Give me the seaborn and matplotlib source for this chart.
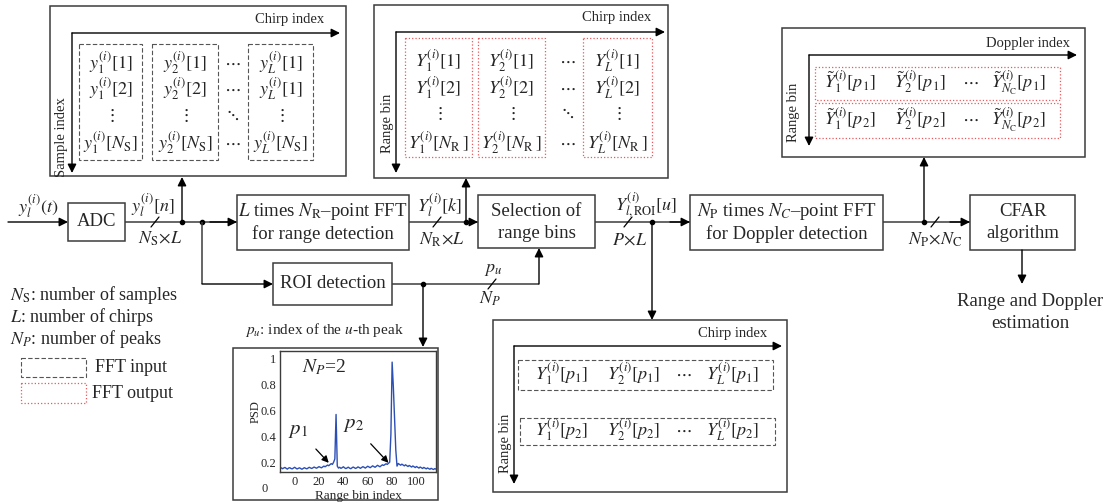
import matplotlib
matplotlib.use("Agg")
import matplotlib.pyplot as plt
import numpy as np
import pandas as pd
import seaborn as sns
from matplotlib.patches import Rectangle

sns.set_style("white")
plt.rcParams['font.family'] = ['Liberation Serif', 'DejaVu Serif']
plt.rcParams['mathtext.fontset'] = 'stix'

# PSD of the ROI detection output
range_bins = list(range(-12, 117))
psd = [0.158, 0.162, 0.155, 0.160, 0.165, 0.158, 0.152, 0.160, 0.163, 0.157,
       0.154, 0.160, 0.166, 0.159, 0.153, 0.158, 0.162, 0.156, 0.151, 0.157,
       0.163, 0.158, 0.154, 0.160, 0.166, 0.161, 0.157, 0.162, 0.168, 0.163,
       0.159, 0.165, 0.171, 0.166, 0.162, 0.169, 0.175, 0.170, 0.176, 0.183,
       0.178, 0.186, 0.194, 0.188, 0.205, 0.230, 0.570, 0.175, 0.160, 0.166,
       0.158, 0.163, 0.170, 0.162, 0.156, 0.161, 0.167, 0.160, 0.155, 0.161,
       0.168, 0.163, 0.157, 0.162, 0.169, 0.164, 0.158, 0.165, 0.171, 0.166,
       0.160, 0.167, 0.174, 0.168, 0.163, 0.170, 0.177, 0.171, 0.166, 0.174,
       0.181, 0.175, 0.170, 0.178, 0.185, 0.180, 0.186, 0.193, 0.188, 0.196,
       0.205, 0.420, 0.970, 0.780, 0.540, 0.300, 0.175, 0.195, 0.188, 0.182,
       0.190, 0.183, 0.177, 0.185, 0.179, 0.172, 0.180, 0.174, 0.168, 0.176,
       0.170, 0.164, 0.172, 0.166, 0.160, 0.168, 0.162, 0.157, 0.165, 0.159,
       0.154, 0.161, 0.156, 0.151, 0.158, 0.153, 0.149, 0.156, 0.152]
psd_xticks = [0, 20, 40, 60, 80, 100]
psd_yticks = [0.2, 0.4, 0.6, 0.8, 1.0]
psd_yticklabels = ['0.2', '0.4', '0.6', '0.8', '1']

# matrix contents
tl_cols = [[r'$y_1^{(i)}[1]$', r'$y_1^{(i)}[2]$', r'$\vdots$', r'$y_1^{(i)}[N_\mathrm{S}]$'],
           [r'$y_2^{(i)}[1]$', r'$y_2^{(i)}[2]$', r'$\vdots$', r'$y_2^{(i)}[N_\mathrm{S}]$'],
           [r'$y_L^{(i)}[1]$', r'$y_L^{(i)}[1]$', r'$\vdots$', r'$y_L^{(i)}[N_\mathrm{S}]$']]
tm_cols = [[r'$Y_1^{(i)}[1]$', r'$Y_1^{(i)}[2]$', r'$\vdots$', r'$Y_1^{(i)}[N_\mathrm{R}\,]$'],
           [r'$Y_2^{(i)}[1]$', r'$Y_2^{(i)}[2]$', r'$\vdots$', r'$Y_2^{(i)}[N_\mathrm{R}\,]$'],
           [r'$Y_L^{(i)}[1]$', r'$Y_L^{(i)}[2]$', r'$\vdots$', r'$Y_L^{(i)}[N_\mathrm{R}\,]$']]
dots_col = [r'$\cdots$', r'$\cdots$', r'$\ddots$', r'$\cdots$']
tr_rows = [[r'$\tilde{Y}_1^{(i)}[p_1]$', r'$\tilde{Y}_2^{(i)}[p_1]$', r'$\cdots$', r'$\tilde{Y}_{N_\mathrm{C}}^{(i)}[p_1]$'],
           [r'$\tilde{Y}_1^{(i)}[p_2]$', r'$\tilde{Y}_2^{(i)}[p_2]$', r'$\cdots$', r'$\tilde{Y}_{N_\mathrm{C}}^{(i)}[p_2]$']]
bm_rows = [[r'$Y_1^{(i)}[p_1]$', r'$Y_2^{(i)}[p_1]$', r'$\cdots$', r'$Y_L^{(i)}[p_1]$'],
           [r'$Y_1^{(i)}[p_2]$', r'$Y_2^{(i)}[p_2]$', r'$\cdots$', r'$Y_L^{(i)}[p_2]$']]

W, H = 1104, 504
fig = plt.figure(figsize=(W / 100, H / 100), dpi=100)
ax = fig.add_axes([0, 0, 1, 1])
ax.set_xlim(0, W)
ax.set_ylim(H, 0)
ax.axis('off')

EDGE = '#3c3c3c'
RED = '#e8585c'
GREY = '#555555'
FS = 13


def box(x0, y0, x1, y1, ls='-', color=EDGE, lw=1.1):
    ax.add_patch(Rectangle((x0, y0), x1 - x0, y1 - y0, fill=False,
                           edgecolor=color, linestyle=ls, lw=lw))


def arrow(x0, y0, x1, y1):
    ax.annotate('', xy=(x1, y1), xytext=(x0, y0),
                arrowprops=dict(arrowstyle='-|>', color='black', lw=1.0,
                                mutation_scale=13, shrinkA=0, shrinkB=0))


def line(xs, ys):
    ax.plot(xs, ys, color=EDGE, lw=1.1, solid_capstyle='butt')


def dot(x, y):
    ax.plot([x], [y], 'o', color='black', ms=3)


def slash(x, y):
    ax.plot([x - 4, x + 4], [y + 5, y - 5], color='black', lw=0.9)


def txt(x, y, s, fs=FS, ha='center', **kw):
    ax.text(x, y, s, fontsize=fs, ha=ha, va='center', **kw)


# ---- top-left: FFT input matrix
box(50, 6, 346, 176)
arrow(72, 33, 340, 33)
arrow(72, 33, 72, 173)
txt(290, 19, 'Chirp index', fs=10.5)
txt(62, 137, 'Sample index', fs=10.5, rotation=90)
for (x0, x1), col in zip([(79, 142), (152, 218), (248, 313)], tl_cols):
    box(x0, 44, x1, 160, ls=(0, (4, 2)), color=GREY, lw=0.8)
    for y, s in zip([63, 89, 115, 143], col):
        txt((x0 + x1) / 2, y, s)
for y, s in zip([63, 89, 115, 143], dots_col):
    txt(232, y, s)

# ---- top-middle: FFT output matrix
box(374, 5, 668, 178)
arrow(396, 32, 665, 32)
arrow(396, 32, 396, 173)
txt(617, 18, 'Chirp index', fs=10.5)
txt(387, 123, 'Range bin', fs=10.5, rotation=90)
for (x0, x1), col in zip([(405, 472), (478, 545), (583, 652)], tm_cols):
    box(x0, 38, x1, 157, ls=':', color=RED, lw=0.9)
    for y, s in zip([61, 88, 113, 143], col):
        txt((x0 + x1) / 2, y, s)
for y, s in zip([61, 88, 113, 143], dots_col):
    txt(567, y, s)

# ---- top-right: Doppler matrix
box(782, 28, 1085, 157)
arrow(809, 55, 1077, 55)
arrow(809, 55, 809, 146)
txt(1028, 43, 'Doppler index', fs=10.5)
txt(793, 112, 'Range bin', fs=10.5, rotation=90)
for (y0, y1), row in zip([(67, 100), (103, 138)], tr_rows):
    box(815, y0, 1060, y1, ls=':', color=RED, lw=0.9)
    for x, s in zip([850, 920, 970, 1018], row):
        txt(x, (y0 + y1) / 2 - 1, s)

# ---- bottom-middle: selected bins matrix
box(493, 320, 787, 492)
arrow(514, 346, 782, 346)
arrow(514, 346, 514, 484)
txt(733, 334, 'Chirp index', fs=10.5)
txt(505, 443, 'Range bin', fs=10.5, rotation=90)
for (x0, x1, y0, y1), row in zip([(518, 773, 360, 390), (520, 775, 418, 445)], bm_rows):
    box(x0, y0, x1, y1, ls=(0, (4, 2)), color=GREY, lw=0.8)
    for x, s in zip([562, 634, 683, 733], row):
        txt(x, (y0 + y1) / 2 - 1, s)

# ---- main signal chain
MY = 222
arrow(8, MY, 68, MY)
txt(38, 206, r'$y_l^{(i)}(t)$')
box(68, 203, 125, 241)
txt(96.5, 222, 'ADC', fs=13.5)

line([125, 237], [MY, MY])
arrow(210, MY, 237, MY)
dot(182, MY)
dot(202, MY)
arrow(182, MY, 182, 177)
slash(155, MY)
txt(153, 205, r'$y_l^{(i)}[n]$')
txt(160, 239, r'$N_\mathrm{S}\!\times\! L$')

box(237, 195, 409, 250)
txt(323, 211, r'$L$ times $N_\mathrm{R}$–point FFT', fs=13.5)
txt(323, 234, 'for range detection', fs=13.5)

line([409, 478], [MY, MY])
arrow(470, MY, 478, MY)
dot(466, MY)
arrow(466, MY, 466, 178)
slash(437, MY)
txt(440, 205, r'$Y_l^{(i)}[k]$')
txt(442, 240, r'$N_\mathrm{R}\!\times\! L$')

box(478, 195, 595, 248)
txt(536.5, 211, 'Selection of', fs=13.5)
txt(536.5, 233, 'range bins', fs=13.5)

line([202, 202], [MY, 284])
arrow(202, 284, 273, 284)
box(273, 263, 392, 305)
txt(332.5, 284, 'ROI detection', fs=13.5)
line([392, 539], [284, 284])
arrow(539, 284, 539, 248)
dot(423, 284)
arrow(423, 284, 423, 347)
slash(492, 284)
txt(493, 269, r'$p_u$')
txt(490, 299, r'$N_P$')

line([595, 690], [MY, MY])
arrow(670, MY, 690, MY)
dot(652, MY)
arrow(652, MY, 652, 320)
slash(628, MY)
txt(646, 205, r'$Y_{l,\mathrm{ROI}}^{(i)}[u]$')
txt(630, 240, r'$P\!\times\! L$')

box(690, 195, 883, 250)
txt(786.5, 211, r'$N_\mathrm{P}$ times $N_C$–point FFT', fs=13.5)
txt(786.5, 234, 'for Doppler detection', fs=13.5)

line([883, 970], [MY, MY])
arrow(950, MY, 970, MY)
dot(924, MY)
arrow(924, MY, 924, 157)
slash(935, MY)
txt(935, 240, r'$N_\mathrm{P}\!\times\! N_\mathrm{C}$')

box(970, 195, 1075, 250)
txt(1022.5, 211, 'CFAR', fs=13.5)
txt(1022.5, 234, 'algorithm', fs=13.5)
arrow(1022, 250, 1022, 284)
txt(1030, 302, 'Range and Doppler', fs=13.5)
txt(1030, 323, 'estimation', fs=13.5)

# ---- notes / legend
txt(10, 295, r'$N_\mathrm{S}$: number of samples', ha='left')
txt(10, 317, r'$L$: number of chirps', ha='left')
txt(10, 339, r'$N_P$: number of peaks', ha='left')
txt(245, 330, r'$p_u$: index of the $u$-th peak', fs=11, ha='left')
box(21, 358, 86, 377, ls=(0, (4, 2)), color=GREY, lw=0.8)
txt(95, 367, 'FFT input', ha='left')
box(21, 383, 86, 403, ls=':', color=RED, lw=0.9)
txt(92, 394, 'FFT output', ha='left')

# ---- PSD inset
box(233, 348, 438, 500)
pax = fig.add_axes([280 / W, 1 - 472 / H, 156 / W, 121 / H])
df = pd.DataFrame({'bin': range_bins, 'psd': psd})
sns.lineplot(data=df, x='bin', y='psd', ax=pax, color='#2b4fb5', lw=1.0)
pax.set_xlim(-12, 116)
pax.set_ylim(0.13, 1.055)
pax.set_xticks(psd_xticks)
pax.set_yticks(psd_yticks)
pax.set_yticklabels(psd_yticklabels)
pax.tick_params(length=0, labelsize=9, pad=3)
pax.set_xlabel('Range bin index', fontsize=9.5, labelpad=1)
pax.set_ylabel('PSD', fontsize=9, labelpad=-1)
pax.text(-0.1, 0.0, '0', fontsize=9, ha='center', va='center',
         transform=pax.get_yaxis_transform(), clip_on=False)
for s in pax.spines.values():
    s.set_color(EDGE)
    s.set_linewidth(1.0)
pax.text(24, 0.93, r'$N_P$=2', fontsize=14, ha='center', va='center')
pax.annotate(r'$p_1$', xy=(28, 0.2), xytext=(3, 0.45), fontsize=15,
             ha='center', va='center',
             arrowprops=dict(arrowstyle='-|>', color='black', lw=0.9,
                             mutation_scale=10, shrinkA=6, shrinkB=0))
pax.annotate(r'$p_2$', xy=(77, 0.2), xytext=(48, 0.49), fontsize=15,
             ha='center', va='center',
             arrowprops=dict(arrowstyle='-|>', color='black', lw=0.9,
                             mutation_scale=10, shrinkA=6, shrinkB=0))

fig.savefig('out.png', dpi=100)
